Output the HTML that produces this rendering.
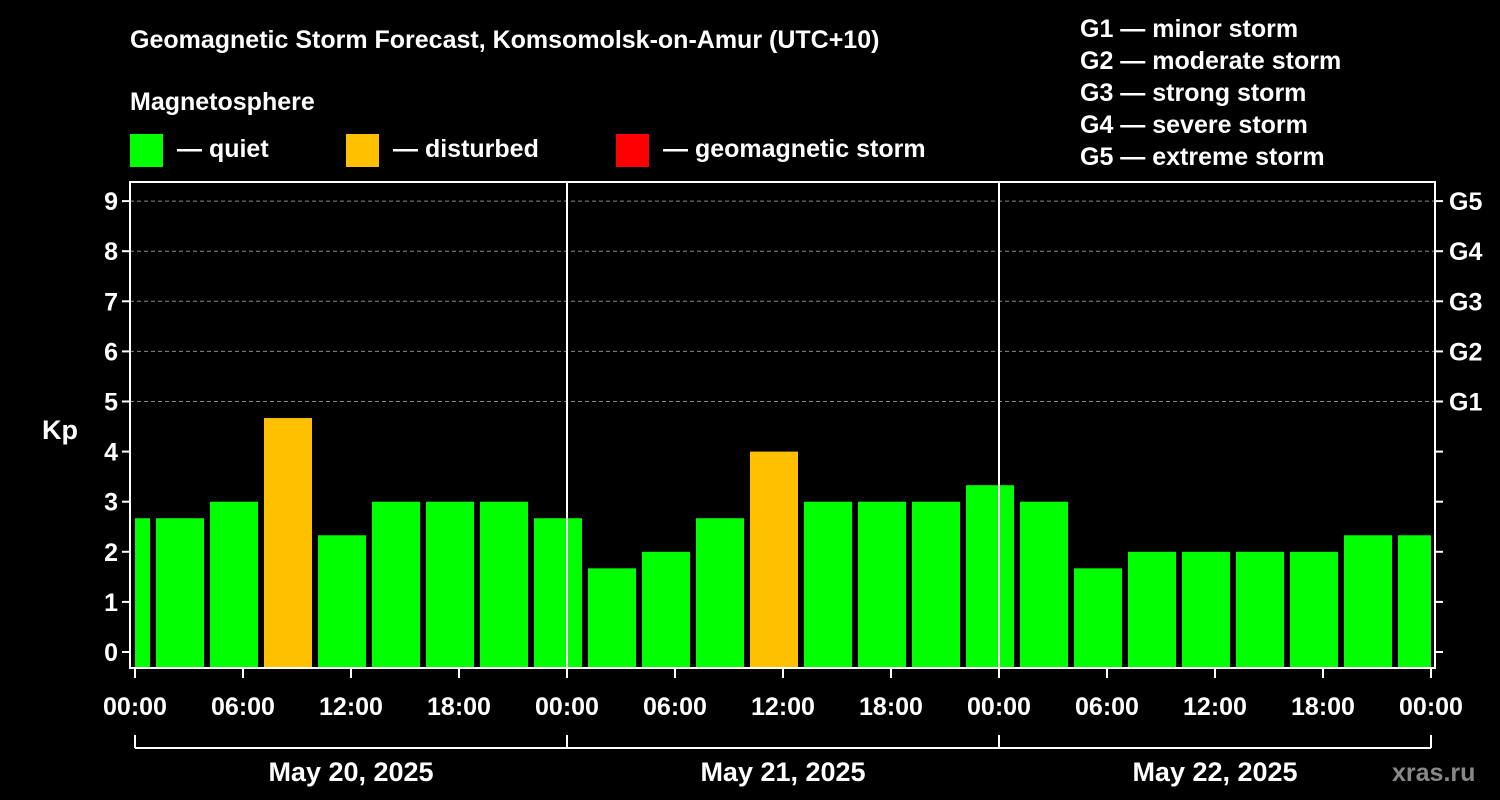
<!DOCTYPE html>
<html><head><meta charset="utf-8"><style>
body{margin:0;background:#000;}
svg{display:block;font-family:"Liberation Sans",sans-serif;font-weight:bold;}
</style></head><body>
<svg id="c" width="1500" height="800" viewBox="0 0 1500 800">
<rect width="1500" height="800" fill="#000"/>
<text x="130" y="48" fill="#fff" font-size="25">Geomagnetic Storm Forecast, Komsomolsk-on-Amur (UTC+10)</text>
<text x="130" y="110" fill="#fff" font-size="25">Magnetosphere</text>
<g><rect x="130" y="134" width="33" height="33" fill="#00ff00"/><text x="177" y="157" fill="#fff" font-size="25">— quiet</text></g>
<g><rect x="346" y="134" width="33" height="33" fill="#ffc000"/><text x="393" y="157" fill="#fff" font-size="25">— disturbed</text></g>
<g><rect x="616" y="134" width="33" height="33" fill="#ff0000"/><text x="663" y="157" fill="#fff" font-size="25">— geomagnetic storm</text></g>
<g fill="#fff" font-size="25">
<text x="1080" y="37">G1 — minor storm</text><text x="1080" y="69">G2 — moderate storm</text><text x="1080" y="101">G3 — strong storm</text><text x="1080" y="133">G4 — severe storm</text><text x="1080" y="165">G5 — extreme storm</text>
</g>
<text x="42" y="439" fill="#fff" font-size="27">Kp</text>
<text x="1392" y="781" fill="#888" font-size="25">xras.ru</text>
<g id="grid"></g><g id="bars"></g><g id="axes"></g>
</svg>
<script>
const kpValues=[2.67,2.67,3,4.67,2.33,3,3,3,2.67,1.67,2,2.67,4,3,3,3,3.33,3,1.67,2,2,2,2,2.33,2.33];
const barCenterHours=[-0.5,2.5,5.5,8.5,11.5,14.5,17.5,20.5,23.5,26.5,29.5,32.5,35.5,38.5,41.5,44.5,47.5,50.5,53.5,56.5,59.5,62.5,65.5,68.5,71.5];
const yTicks=[0,1,2,3,4,5,6,7,8,9];
const gLabels=["G1","G2","G3","G4","G5"];
const xTickHours=[0,6,12,18,24,30,36,42,48,54,60,66,72];
const xTickLabels=["00:00","06:00","12:00","18:00","00:00","06:00","12:00","18:00","00:00","06:00","12:00","18:00","00:00"];
const dayLabels=["May 20, 2025","May 21, 2025","May 22, 2025"];
const NS="http://www.w3.org/2000/svg";
const L=130,R=1435,T=182,B=668;
const x=h=>135+h*18;
const y=k=>652-k*50.1;
function mk(tag,attrs,parent,text){const e=document.createElementNS(NS,tag);for(const k in attrs)e.setAttribute(k,attrs[k]);if(text!==undefined)e.textContent=text;document.getElementById(parent).appendChild(e);return e;}
yTicks.forEach(k=>{if(k>=5){const g=mk('line',{x1:L,x2:R,y1:y(k),y2:y(k),stroke:'#888','stroke-dasharray':'4,3','stroke-width':1},'grid');

}});
kpValues.forEach((v,i)=>{const c=x(barCenterHours[i]);let x0=Math.max(c-24,L+5),x1=Math.min(c+24,R-4);
const r=mk('rect',{x:x0,y:y(v),width:x1-x0,height:B-y(v),fill:v>=5?'#ff0000':(v>=4?'#ffc000':'#00ff00')},'bars');

});
const fr=mk('rect',{x:L,y:T,width:R-L,height:B-T,fill:'none',stroke:'#fff','stroke-width':2},'axes');


[24,48].forEach(h=>{const l=mk('line',{x1:x(h),x2:x(h),y1:T,y2:B,stroke:'#fff','stroke-width':2},'axes');

});
yTicks.forEach(k=>{mk('line',{x1:L-8,x2:L,y1:y(k),y2:y(k),stroke:'#fff','stroke-width':2},'axes');
mk('line',{x1:R,x2:R+8,y1:y(k),y2:y(k),stroke:'#fff','stroke-width':2},'axes');
const t=mk('text',{x:L-12,y:y(k)+9,fill:'#fff','font-size':25,'text-anchor':'end'},'axes',String(k));


if(k>=5){const g=mk('text',{x:R+14,y:y(k)+9,fill:'#fff','font-size':25},'axes',gLabels[k-5]);

}});
xTickHours.forEach((h,i)=>{mk('line',{x1:x(h),x2:x(h),y1:B,y2:B+10,stroke:'#fff','stroke-width':2},'axes');
const t=mk('text',{x:x(h),y:715,fill:'#fff','font-size':25,'text-anchor':'middle'},'axes',xTickLabels[i]);

});
mk('line',{x1:x(0),x2:x(72),y1:748,y2:748,stroke:'#fff','stroke-width':2},'axes');
[0,24,48,72].forEach(h=>mk('line',{x1:x(h),x2:x(h),y1:735,y2:748,stroke:'#fff','stroke-width':2},'axes'));
dayLabels.forEach((d,i)=>{const t=mk('text',{x:x(i*24+12),y:781,fill:'#fff','font-size':27,'text-anchor':'middle'},'axes',d);

});
</script>
</body></html>
